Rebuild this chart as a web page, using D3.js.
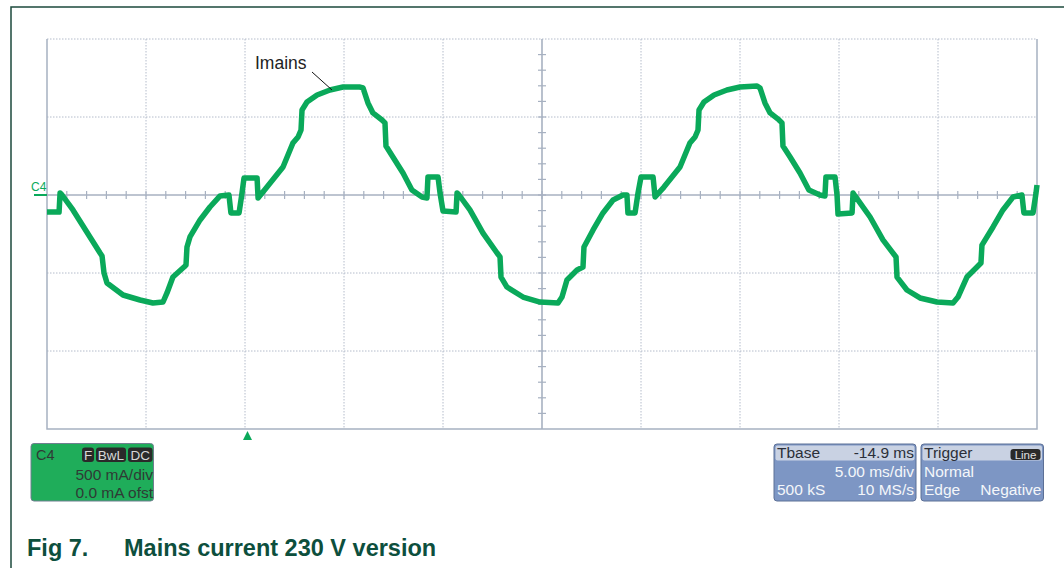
<!DOCTYPE html>
<html>
<head>
<meta charset="utf-8">
<script src="https://d3js.org/d3.v7.min.js"></script>
<style>
  body { margin: 0; background: #fff; }
  svg text { font-family: "Liberation Sans", Arial, sans-serif; }
</style>
</head>
<body>
<script>
// screen: 10 divisions of 5 ms, current 500 mA/div, zero at the C4 marker
var timeRange = [0, 50];          // ms across the screen
var currentRange = [-1500, 1000]; // mA, bottom to top
var timeDivs = [5, 10, 15, 20, 30, 35, 40, 45];
var currentDivs = [-1000, -500, 500];
var minorTime = d3.range(0, 50.01, 1);
var minorCurrent = d3.range(-1500, 1000.1, 100);

// Imains trace (t in ms, i in mA)
var traceTime = [
  0, 0.61, 0.66, 0.76, 1.31, 2.17, 2.68, 2.78, 2.88, 3.03, 3.84, 4.70, 5.35, 5.86, 6.06, 6.36,
  6.92, 7.02, 7.07, 7.22, 7.73, 8.23, 8.74, 9.19, 9.29, 9.70, 9.85, 9.95, 10.61, 10.66, 11.11,
  11.92, 12.42, 12.68, 12.83, 12.88, 13.13, 13.64, 14.29, 14.95, 15.81, 15.96, 16.21, 16.46,
  16.92, 17.07, 17.12, 17.47, 17.98, 18.43, 18.94, 19.19, 19.24, 19.75, 19.85, 20.0, 20.66,
  20.71, 20.81, 21.36, 22.02, 22.73, 22.88, 22.93, 23.23, 24.04, 24.90, 25.81, 26.01, 26.26,
  26.77, 27.07, 27.12, 27.58, 28.08, 28.59, 29.09, 29.29, 29.34, 29.70, 29.85, 30.0, 30.61,
  30.71, 31.16, 31.97, 32.47, 32.73, 32.88, 32.93, 33.18, 33.69, 34.34, 35.0, 35.86, 36.01,
  36.26, 36.52, 36.97, 37.12, 37.17, 37.53, 38.03, 38.48, 39.04, 39.29, 39.34, 39.80, 39.9,
  39.95, 40.66, 40.71, 40.81, 41.57, 42.22, 42.68, 42.88, 42.93, 43.43, 44.09, 44.95, 45.76,
  46.01, 46.46, 46.97, 47.17, 47.22, 47.78, 48.28, 48.79, 49.24, 49.34, 49.80, 49.95, 50
];
var traceCurrent = [
  -109, -109, 13, 0, -96, -269, -372, -391, -500, -564, -641, -673, -692, -686, -628, -526,
  -462, -449, -333, -269, -160, -77, -6, 0, -115, -115, 13, 109, 109, -19, 51,
  179, 333, 372, 417, 545, 596, 641, 673, 692, 692, 686, 590, 526,
  481, 462, 314, 244, 141, 32, -13, -19, 115, 115, 13, -103, -109,
  13, 0, -96, -244, -372, -397, -526, -590, -654, -686, -692, -654, -545,
  -481, -462, -333, -224, -115, -32, 0, 0, -115, -115, 13, 115, 115,
  -13, 51, 179, 333, 372, 417, 545, 596, 641, 673, 692, 699, 686,
  590, 526, 481, 462, 314, 244, 141, 32, 0, -6, 115, 115, 0,
  -122, -115, 13, -6, -141, -288, -365, -397, -526, -609, -660, -686, -692,
  -654, -526, -462, -436, -321, -205, -96, -13, 0, -115, -115, 13, 64
];

var W = 1064, H = 568;
var svg = d3.select("body").append("svg").attr("width", W).attr("height", H);

var x = d3.scaleLinear().domain(timeRange).range([47, 1037]);
var y = d3.scaleLinear().domain(currentRange).range([429, 39]);

var gridCol = "#b4bccb", axisCol = "#a7b1c1";

// page frame
svg.append("path").attr("d", "M11,568V7H1064").attr("fill", "none")
  .attr("stroke", "#1d4a3c").attr("stroke-width", 1.5);

var plot = svg.append("g");

// dotted grid
plot.selectAll(".vg").data(timeDivs).enter().append("line")
  .attr("x1", d => x(d)).attr("x2", d => x(d))
  .attr("y1", y(currentRange[1])).attr("y2", y(currentRange[0]))
  .attr("stroke", gridCol).attr("stroke-width", 1).attr("stroke-dasharray", "1.5,1.5");
plot.selectAll(".hg").data(currentDivs.concat([currentRange[1]])).enter().append("line")
  .attr("x1", x(0)).attr("x2", x(50))
  .attr("y1", d => y(d)).attr("y2", d => y(d))
  .attr("stroke", gridCol).attr("stroke-width", 1).attr("stroke-dasharray", "1.5,1.5");

// solid border (left, bottom, right)
plot.append("path")
  .attr("d", "M" + x(0) + "," + y(1000) + "V" + y(-1500) + "H" + x(50) + "V" + y(1000))
  .attr("fill", "none").attr("stroke", axisCol).attr("stroke-width", 1.5);

// centre axes with minor ticks
plot.append("line").attr("x1", x(0)).attr("x2", x(50)).attr("y1", y(0)).attr("y2", y(0))
  .attr("stroke", axisCol).attr("stroke-width", 1.6);
plot.append("line").attr("x1", x(25)).attr("x2", x(25)).attr("y1", y(1000)).attr("y2", y(-1500))
  .attr("stroke", axisCol).attr("stroke-width", 1.6);
plot.selectAll(".xt").data(minorTime.filter(d => d > 0 && d < 50)).enter().append("line")
  .attr("x1", d => x(d)).attr("x2", d => x(d))
  .attr("y1", y(0) - 4).attr("y2", y(0) + 4)
  .attr("stroke", axisCol).attr("stroke-width", 1.2);
plot.selectAll(".yt").data(minorCurrent.filter(d => d > -1500 && d < 1000)).enter().append("line")
  .attr("x1", x(25) - 4).attr("x2", x(25) + 4)
  .attr("y1", d => y(d)).attr("y2", d => y(d))
  .attr("stroke", axisCol).attr("stroke-width", 1.2);

// trace
var traceCol = "#0aa95a";
var pts = traceTime.map((t, i) => [t, traceCurrent[i]]);
var line = d3.line().x(d => x(d[0])).y(d => y(d[1]));
plot.append("path").datum(pts).attr("d", line)
  .attr("fill", "none").attr("stroke", traceCol).attr("stroke-width", 5.5)
  .attr("stroke-linejoin", "round");

// C4 ground marker
svg.append("text").attr("x", 31).attr("y", 191).attr("font-size", 12)
  .attr("fill", traceCol).text("C4");
svg.append("line").attr("x1", 34).attr("x2", x(0)).attr("y1", y(0)).attr("y2", y(0))
  .attr("stroke", traceCol).attr("stroke-width", 2);

// trigger position marker
var tx = 247.5;
svg.append("path").attr("d", "M" + tx + ",431L" + (tx + 4.5) + ",440L" + (tx - 4.5) + ",440Z")
  .attr("fill", traceCol);

// Imains annotation
svg.append("text").attr("x", 255).attr("y", 69).attr("font-size", 17.5)
  .attr("fill", "#222").text("Imains");
svg.append("line").attr("x1", 312).attr("y1", 72).attr("x2", 332).attr("y2", 90)
  .attr("stroke", "#111").attr("stroke-width", 1);

// C4 channel box
var c4 = svg.append("g");
c4.append("rect").attr("x", 31).attr("y", 443.5).attr("width", 122.5).attr("height", 57.5)
  .attr("rx", 3).attr("fill", "#1fad5a").attr("stroke", "#6f7f8f").attr("stroke-width", 1);
c4.append("text").attr("x", 36).attr("y", 459.5).attr("font-size", 14.5).attr("fill", "#2f3a35").text("C4");
var badges = [["F", 82, 12], ["BwL", 96, 30], ["DC", 128, 24.5]];
badges.forEach(function (b) {
  c4.append("rect").attr("x", b[1]).attr("y", 447.5).attr("width", b[2]).attr("height", 14.5)
    .attr("rx", 3).attr("fill", "#2a2a2a");
  c4.append("text").attr("x", b[1] + b[2] / 2).attr("y", 459.5).attr("font-size", 13.5)
    .attr("text-anchor", "middle").attr("fill", "#d8d8d8").text(b[0]);
});
c4.append("text").attr("x", 153).attr("y", 480).attr("font-size", 15.5).attr("text-anchor", "end")
  .attr("fill", "#2f3a35").text("500 mA/div");
c4.append("text").attr("x", 153).attr("y", 497.5).attr("font-size", 15.5).attr("text-anchor", "end")
  .attr("fill", "#2f3a35").text("0.0 mA ofst");

// timebase and trigger boxes
function infoBox(x0, w, head, headRight, rows, badge) {
  var g = svg.append("g");
  g.append("rect").attr("x", x0).attr("y", 444).attr("width", w).attr("height", 57)
    .attr("rx", 3).attr("fill", "#7d96c4").attr("stroke", "#5d7096").attr("stroke-width", 1);
  g.append("rect").attr("x", x0 + 1.5).attr("y", 445.5).attr("width", w - 3).attr("height", 15)
    .attr("rx", 2).attr("fill", "#c9d2e3");
  g.append("text").attr("x", x0 + 3).attr("y", 458).attr("font-size", 15.5)
    .attr("fill", "#2b2f38").text(head);
  if (headRight) {
    g.append("text").attr("x", x0 + w - 2).attr("y", 458).attr("font-size", 15.5)
      .attr("text-anchor", "end").attr("fill", "#2b2f38").text(headRight);
  }
  if (badge) {
    g.append("rect").attr("x", x0 + w - 33).attr("y", 449).attr("width", 30).attr("height", 11)
      .attr("rx", 3).attr("fill", "#2a2a2a");
    g.append("text").attr("x", x0 + w - 18).attr("y", 458.5).attr("font-size", 11.5)
      .attr("text-anchor", "middle").attr("fill", "#e0e0e0").text(badge);
  }
  rows.forEach(function (r, i) {
    var yy = 477 + i * 18;
    if (r[0]) g.append("text").attr("x", x0 + 3).attr("y", yy).attr("font-size", 15.5)
      .attr("fill", "#f4f6fa").text(r[0]);
    if (r[1]) g.append("text").attr("x", x0 + w - 2).attr("y", yy).attr("font-size", 15.5)
      .attr("text-anchor", "end").attr("fill", "#f4f6fa").text(r[1]);
  });
}
infoBox(774, 142, "Tbase", "-14.9 ms", [["", "5.00 ms/div"], ["500 kS", "10 MS/s"]]);
infoBox(921, 122.5, "Trigger", null, [["Normal", ""], ["Edge", "Negative"]], "Line");

// caption
svg.append("text").attr("x", 27).attr("y", 556).attr("font-size", 23.5).attr("font-weight", "bold")
  .attr("fill", "#0d4f3d").text("Fig 7.");
svg.append("text").attr("x", 124).attr("y", 556).attr("font-size", 23.5).attr("font-weight", "bold")
  .attr("fill", "#0d4f3d").text("Mains current 230 V version");
</script>
</body>
</html>
